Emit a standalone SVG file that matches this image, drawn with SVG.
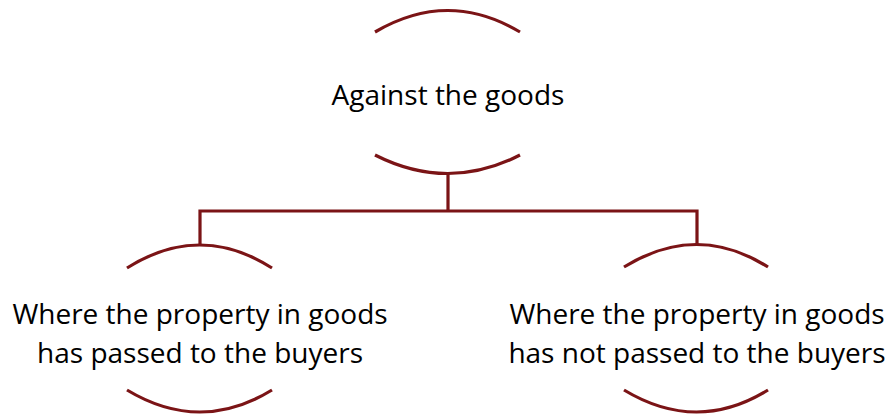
<svg xmlns="http://www.w3.org/2000/svg" width="888" height="415" viewBox="0 0 888 415">
<style>
.arc{fill:none;stroke:#7B1416;stroke-width:3.2}
.con{fill:none;stroke:#7B1416;stroke-width:3.2}
.t{font-family:"Open Sans","Noto Sans",sans-serif;font-size:28px;fill:#000;text-anchor:middle}
</style>
<rect width="888" height="415" fill="#fff"/>
<g id="connectors">
<path class="con" d="M448 174 V211 M200 211 H697 M200 209.4 V246 M697 209.4 V246"/>
</g>
<g id="root">
<path class="arc" d="M375 32 Q448 -11 520 32"/>
<path class="arc" d="M375 155 Q448 192 520 155"/>
<text class="t" x="448" y="105">Against the goods</text>
</g>
<g id="left">
<path class="arc" d="M127 268 Q200 222 272 268"/>
<path class="arc" d="M127 390 Q200 434 272 390"/>
<text class="t" x="200" y="324">Where the property in goods</text>
<text class="t" x="200" y="363">has passed to the buyers</text>
</g>
<g id="right">
<path class="arc" d="M624 267 Q697 222 768 267"/>
<path class="arc" d="M624 390 Q697 434 768 390"/>
<text class="t" x="697" y="324">Where the property in goods</text>
<text class="t" x="697" y="363">has not passed to the buyers</text>
</g>
</svg>
